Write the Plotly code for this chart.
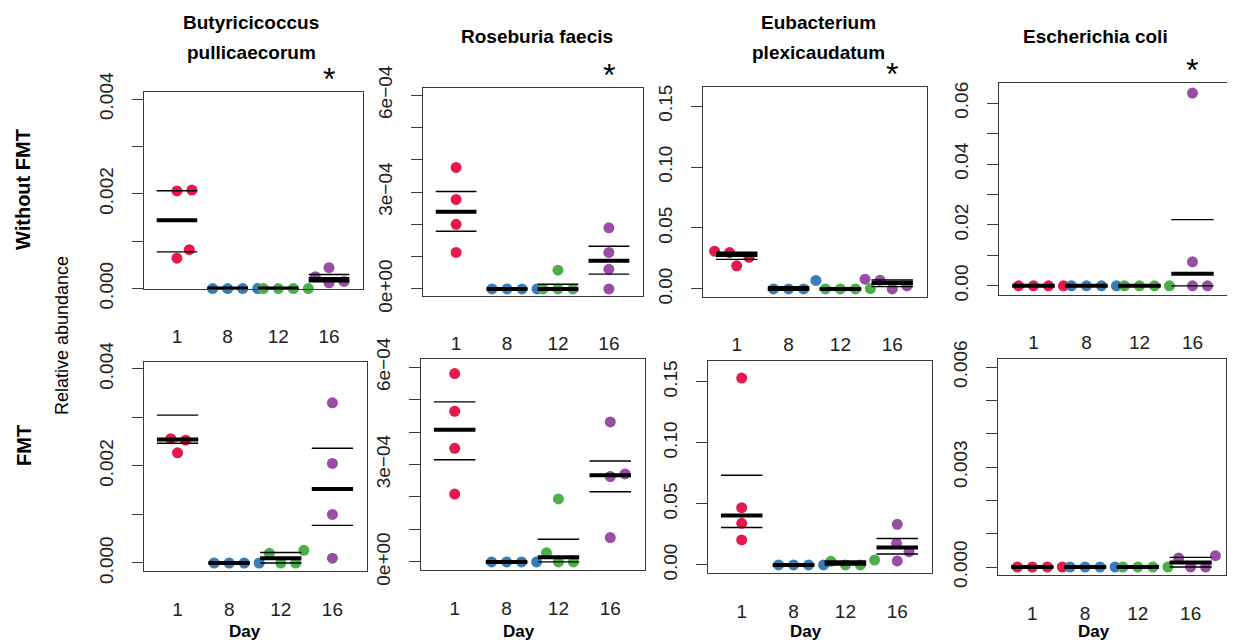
import numpy as np
import plotly.graph_objects as go

W, H = 1235, 642
OFF = 8  # page body margin in the browser

# ---------------- data ----------------
days = ["1", "8", "12", "16"]
group_colors = ["#E31A4B", "#377EB8", "#4DAF4A", "#984EA3"]

title_lines = [["Butyricicoccus", "pullicaecorum"], ["Roseburia faecis"],
               ["Eubacterium", "plexicaudatum"], ["Escherichia coli"]]
row_labels = ["Without FMT", "FMT"]
y_title = "Relative abundance"
x_title = "Day"
significant_day = "16"   # starred day in the "Without FMT" row

# relative abundance per day (1, 8, 12, 16), four mice each
bpul_without = [[0.00064, 0.00082, 0.00206, 0.00208], [0, 0, 0, 0], [0, 0, 0, 0],
                [0.00012, 0.00015, 0.00025, 0.00044]]
rfae_without = [[3.76e-4, 2.77e-4, 2.00e-4, 1.13e-4], [0, 0, 0, 0], [0, 0, 0, 0.58e-4],
                [1.89e-4, 1.13e-4, 0.61e-4, 0]]
eple_without = [[0.031, 0.0298, 0.019, 0.026], [0, 0, 0, 0.007], [0, 0, 0, 0.0003],
                [0.008, 0.0071, 0, 0.0025]]
ecol_without = [[0, 0, 0, 0], [0, 0, 0, 0], [0, 0, 0, 0], [0.0633, 0.0079, 0, 0]]
bpul_fmt = [[0.00227, 0.00253, 0.00256, 0.0045], [0, 0, 0, 0], [0, 0, 0.0002, 0.00026],
            [0.0033, 0.00205, 0.001, 0.0001]]
rfae_fmt = [[5.8e-4, 4.64e-4, 3.5e-4, 2.09e-4], [0, 0, 0, 0], [1.94e-4, 0.28e-4, 0, 0],
            [4.31e-4, 2.63e-4, 2.71e-4, 0.75e-4]]
eple_fmt = [[0.153, 0.0469, 0.0341, 0.0205], [0, 0, 0, 0], [0, 0, 0.003, 0.004],
            [0.0333, 0.0177, 0.0109, 0.0033]]
ecol_fmt = [[0, 0, 0, 0], [0, 0, 0, 0], [0, 0, 0, 0], [0.00027, 0, 0, 0.00034]]

# y tick values / labels
bpul_ticks = [0, 0.001, 0.002, 0.003, 0.004]
bpul_ticktext = ["0.000", "", "0.002", "", "0.004"]
rfae_ticks = [0, 1e-4, 2e-4, 3e-4, 4e-4, 5e-4, 6e-4]
rfae_ticktext = ["0e+00", "", "", "3e\u221204", "", "", "6e\u221204"]
eple_ticks = [0, 0.05, 0.10, 0.15]
eple_ticktext = ["0.00", "0.05", "0.10", "0.15"]
ecol_w_ticks = [0, 0.01, 0.02, 0.03, 0.04, 0.05, 0.06]
ecol_w_ticktext = ["0.00", "", "0.02", "", "0.04", "", "0.06"]
ecol_f_ticks = [0, 0.001, 0.002, 0.003, 0.004, 0.005, 0.006]
ecol_f_ticktext = ["0.000", "", "", "0.003", "", "", "0.006"]

# ---------------- layout of panels (window pixels) ----------------
panels = [
    dict(data=bpul_without, box=(144, 363, 92, 289), yr=(-0.00001, 0.00415), tv=bpul_ticks, tt=bpul_ticktext, star=True),
    dict(data=rfae_without, box=(423, 643, 88, 296), yr=(-0.22e-4, 6.22e-4), tv=rfae_ticks, tt=rfae_ticktext, star=True),
    dict(data=eple_without, box=(703, 927, 87, 297), yr=(-0.0066, 0.1656), tv=eple_ticks, tt=eple_ticktext, star=True),
    dict(data=ecol_without, box=(999, 1228, 83, 295), yr=(-0.003, 0.0666), tv=ecol_w_ticks, tt=ecol_w_ticktext, star=True),
    dict(data=bpul_fmt, box=(144, 367, 362, 571), yr=(-0.000165, 0.00414), tv=bpul_ticks, tt=bpul_ticktext, star=False),
    dict(data=rfae_fmt, box=(421, 645, 359, 570), yr=(-0.25e-4, 6.25e-4), tv=rfae_ticks, tt=rfae_ticktext, star=False),
    dict(data=eple_fmt, box=(708, 932, 361, 573), yr=(-0.0066, 0.167), tv=eple_ticks, tt=eple_ticktext, star=False),
    dict(data=ecol_fmt, box=(998, 1226, 359, 575), yr=(-0.00024, 0.00624), tv=ecol_f_ticks, tt=ecol_f_ticktext, star=False),
]
XR = (0.35, 4.67)
D = 15.0  # swarm spacing in px


def px_x(x):
    return (x - OFF) / W


def px_y(y):
    return 1 - (y - OFF) / H


def swarm(vals, xppu, yppu, d=D):
    order = np.argsort(vals, kind="stable")
    placed = []
    offs = [0.0] * len(vals)
    for i in order:
        y = vals[i] * yppu
        cands = [0.0]
        for (px, py) in placed:
            dy = abs(y - py)
            if dy < d:
                dx = np.sqrt(d * d - dy * dy)
                cands += [px + dx, px - dx]
        cands = sorted(cands, key=lambda c: (round(abs(c), 6), -c))
        chosen = cands[-1]
        for c in cands:
            if all((c - px) ** 2 + (y - py) ** 2 >= d * d - 1e-6 for px, py in placed):
                chosen = c
                break
        placed.append((chosen, y))
        offs[i] = chosen / xppu
    return offs


fig = go.Figure()
layout = dict(width=W, height=H, margin=dict(l=0, r=0, t=0, b=0, pad=0, autoexpand=False),
              paper_bgcolor="white", plot_bgcolor="white", showlegend=False)
annotations = []
FONT = "Liberation Sans, Arial, sans-serif"
AXC = "#3a3a3a"

for k, p in enumerate(panels):
    n = k + 1
    xa, ya = f"x{n}", f"y{n}"
    x0, x1, yt, yb = p["box"]
    ymin, ymax = p["yr"]
    xppu = (x1 - x0) / (XR[1] - XR[0])
    yppu = (yb - yt) / (ymax - ymin)
    row = 0 if k < 4 else 1

    # points
    for g, vals in enumerate(p["data"]):
        offs = swarm(vals, xppu, yppu)
        xs, ys = [], []
        for v, o in zip(vals, offs):
            if ymin <= v <= ymax:
                xs.append(g + 1 + o)
                ys.append(v)
        fig.add_trace(go.Scatter(x=xs, y=ys, mode="markers", xaxis=xa, yaxis=ya,
                                 cliponaxis=False,
                                 marker=dict(size=11, color=group_colors[g], line=dict(width=0)),
                                 hoverinfo="skip"))
    # median & quartiles
    for g, vals in enumerate(p["data"]):
        q1, med, q3 = np.percentile(vals, [25, 50, 75])
        c = g + 1
        fig.add_trace(go.Scatter(x=[c - 0.4, c + 0.4, None, c - 0.4, c + 0.4],
                                 y=[q1, q1, None, q3, q3], mode="lines",
                                 xaxis=xa, yaxis=ya, cliponaxis=False,
                                 line=dict(color="black", width=1.4), hoverinfo="skip"))
        fig.add_trace(go.Scatter(x=[c - 0.4, c + 0.4], y=[med, med], mode="lines",
                                 xaxis=xa, yaxis=ya, cliponaxis=False,
                                 line=dict(color="black", width=4), hoverinfo="skip"))

    layout[f"xaxis{n}"] = dict(
        domain=[px_x(x0), px_x(x1)], anchor=ya, range=list(XR), automargin=False,
        showline=True, mirror=True, linecolor=AXC, linewidth=1.3,
        ticks="", tickvals=[1, 2, 3, 4], ticktext=days,
        tickfont=dict(family=FONT, size=19, color="#222"),
        ticklabelstandoff=30 if row == 0 else 21,
        showgrid=False, zeroline=False, fixedrange=True)
    layout[f"yaxis{n}"] = dict(
        domain=[px_y(yb), px_y(yt)], anchor=xa, range=[ymin, ymax], automargin=False,
        showline=True, mirror=True, linecolor=AXC, linewidth=1.3,
        ticks="outside", ticklen=11, tickwidth=1.3, tickcolor=AXC,
        tickvals=p["tv"], ticktext=p["tt"], tickangle=-90,
        tickfont=dict(family=FONT, size=19, color="#222"),
        ticklabelstandoff=11,
        showgrid=False, zeroline=False, fixedrange=True)

    if p["star"]:
        annotations.append(dict(text="*", x=days.index(significant_day) + 1, xref=xa,
                                y=px_y(yt - 13), yref="paper", showarrow=False,
                                yanchor="middle", xanchor="center",
                                font=dict(family=FONT, size=32, color="black")))

# titles
title_x = [251, 537, 818, 1095]
for tx, lines in zip(title_x, title_lines):
    ys = [22, 52] if len(lines) == 2 else [36]
    for ln, yy in zip(lines, ys):
        annotations.append(dict(text=f"<b>{ln}</b>", x=px_x(tx), y=px_y(yy), xref="paper", yref="paper",
                                showarrow=False, xanchor="center", yanchor="middle",
                                font=dict(family=FONT, size=19, color="black")))

# row labels
annotations.append(dict(text=f"<b>{row_labels[0]}</b>", x=px_x(23), y=px_y(190), xref="paper", yref="paper",
                        showarrow=False, textangle=-90, xanchor="center", yanchor="middle",
                        font=dict(family=FONT, size=20, color="black")))
annotations.append(dict(text=f"<b>{row_labels[1]}</b>", x=px_x(24), y=px_y(446), xref="paper", yref="paper",
                        showarrow=False, textangle=-90, xanchor="center", yanchor="middle",
                        font=dict(family=FONT, size=20, color="black")))
annotations.append(dict(text=y_title, x=px_x(62), y=px_y(336), xref="paper", yref="paper",
                        showarrow=False, textangle=-90, xanchor="center", yanchor="middle",
                        font=dict(family=FONT, size=18, color="black")))
# Day labels
for dx in [245, 519, 806, 1094]:
    annotations.append(dict(text=f"<b>{x_title}</b>", x=px_x(dx), y=px_y(631), xref="paper", yref="paper",
                            showarrow=False, xanchor="center", yanchor="middle",
                            font=dict(family=FONT, size=17, color="black")))

layout["annotations"] = annotations
fig.update_layout(**layout)
fig.write_html("out.html")
